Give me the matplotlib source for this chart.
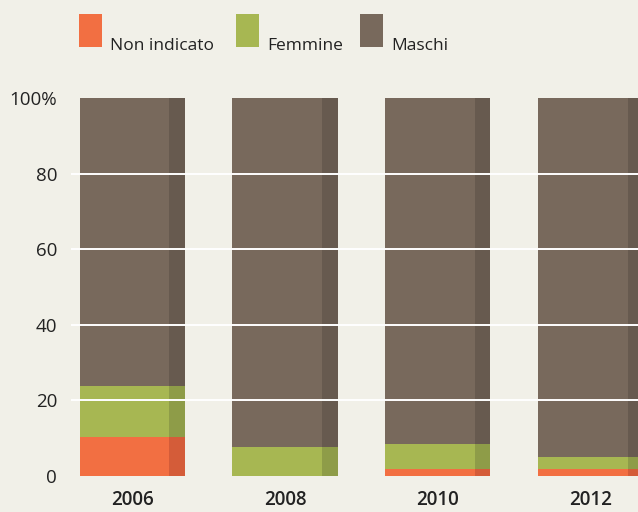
import numpy as np
import matplotlib.pyplot as plt
from matplotlib.patches import Rectangle

plt.rcParams['font.family'] = ['Open Sans', 'DejaVu Sans']

# dati
anni = ['2006', '2008', '2010', '2012']
non_indicato = [10.3, 0.0, 1.9, 1.9]
femmine = [13.5, 7.7, 6.6, 3.1]
maschi = [100 - a - b for a, b in zip(non_indicato, femmine)]
serie = ['Non indicato', 'Femmine', 'Maschi']
y_ticks = [0, 20, 40, 60, 80, 100]
y_labels = ['0', '20', '40', '60', '80', '100%']

colori = ['#f26f42', '#a7b752', '#78695c']
colori_scuri = ['#d45c39', '#8e9c48', '#675a4f']
bg = '#f1f0e8'

fig = plt.figure(figsize=(6.38, 5.12), dpi=100, facecolor=bg)
ax = fig.add_axes([71 / 638, 36 / 512, 567 / 638, 378 / 512])
ax.set_facecolor(bg)

x = np.arange(len(anni))
w = 0.688
sw = 0.1  # striscia scura a destra
valori = [non_indicato, femmine, maschi]
bottom = np.zeros(len(anni))
for vals, c, cs in zip(valori, colori, colori_scuri):
    ax.bar(x, vals, w, bottom=bottom, color=c, linewidth=0, zorder=2)
    ax.bar(x + w / 2 - sw, vals, sw, bottom=bottom, align='edge',
           color=cs, linewidth=0, zorder=2)
    bottom = bottom + np.array(vals)

for t in y_ticks[1:-1]:
    ax.axhline(t, color='white', lw=1.4, zorder=3)

ax.set_xlim(-0.4, 3.31)
ax.set_ylim(0, 100)
ax.set_yticks(y_ticks)
ax.set_yticklabels(y_labels, fontsize=13.5, color='#222222')
ax.set_xticks(x)
ax.set_xticklabels(anni, fontsize=13.5, fontweight='semibold', color='#222222')
ax.tick_params(axis='both', length=0)
ax.tick_params(axis='y', pad=10)
ax.tick_params(axis='x', pad=10)
for s in ax.spines.values():
    s.set_visible(False)

# legenda
leg_x = [79, 236, 360]
for lx, c, lab in zip(leg_x, colori, serie):
    fig.add_artist(Rectangle((lx / 638, 1 - 47 / 512), 23 / 638, 33 / 512,
                             transform=fig.transFigure, color=c, lw=0))
    fig.text((lx + 31) / 638, 1 - 50 / 512, lab, fontsize=12.5,
             color='#222222', va='baseline', ha='left')

fig.savefig('out.png', dpi=100, facecolor=bg)
